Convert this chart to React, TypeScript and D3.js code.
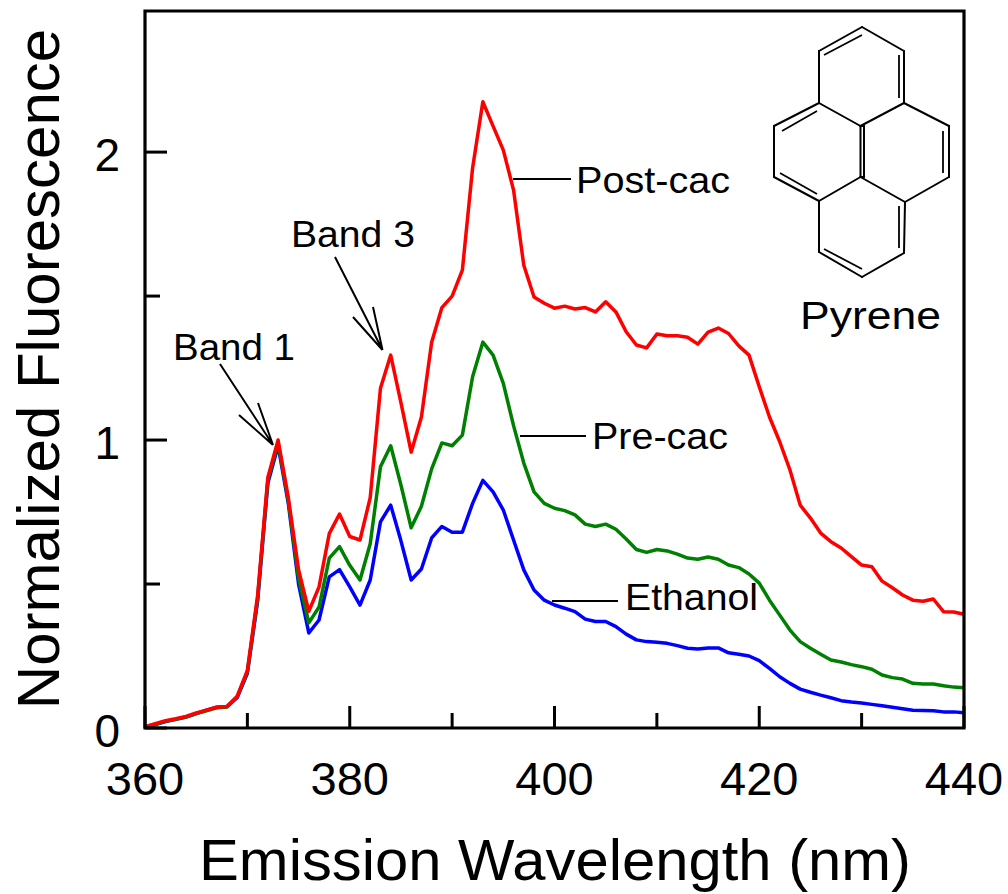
import React from "react";
import * as d3 from "d3";

const wavelengths = d3.range(360, 441);
const postCac = [0.005,0.015,0.025,0.032,0.04,0.052,0.062,0.072,0.075,0.11,0.2,0.46,0.87,1.0,0.8,0.55,0.405,0.49,0.675,0.743,0.665,0.653,0.8,1.18,1.295,1.13,0.958,1.08,1.34,1.46,1.5,1.59,1.945,2.175,2.09,2.007,1.868,1.607,1.497,1.475,1.458,1.465,1.455,1.46,1.445,1.48,1.445,1.376,1.33,1.32,1.368,1.362,1.362,1.357,1.333,1.375,1.389,1.37,1.327,1.295,1.185,1.08,0.994,0.896,0.774,0.729,0.677,0.647,0.625,0.595,0.566,0.56,0.51,0.487,0.462,0.444,0.44,0.448,0.404,0.403,0.395];
const preCac = [0.003,0.013,0.023,0.03,0.038,0.05,0.06,0.07,0.073,0.108,0.195,0.45,0.86,0.99,0.79,0.52,0.365,0.42,0.59,0.63,0.565,0.514,0.64,0.907,0.98,0.844,0.695,0.77,0.9,0.99,0.98,1.017,1.22,1.34,1.295,1.197,1.05,0.92,0.82,0.78,0.763,0.755,0.74,0.708,0.7,0.708,0.69,0.656,0.62,0.61,0.62,0.615,0.604,0.59,0.586,0.594,0.586,0.566,0.557,0.535,0.503,0.444,0.392,0.34,0.3,0.277,0.256,0.236,0.229,0.22,0.213,0.204,0.184,0.175,0.17,0.155,0.153,0.153,0.147,0.142,0.14];
const ethanol = [0.002,0.012,0.022,0.03,0.038,0.05,0.062,0.072,0.074,0.105,0.19,0.44,0.85,0.98,0.78,0.5,0.33,0.375,0.525,0.55,0.49,0.427,0.514,0.716,0.774,0.65,0.514,0.552,0.66,0.7,0.68,0.68,0.78,0.86,0.82,0.757,0.653,0.549,0.479,0.444,0.427,0.416,0.404,0.378,0.37,0.37,0.352,0.326,0.306,0.3,0.298,0.294,0.286,0.277,0.274,0.278,0.278,0.261,0.256,0.25,0.234,0.207,0.178,0.155,0.135,0.124,0.114,0.105,0.095,0.09,0.087,0.082,0.077,0.072,0.067,0.062,0.061,0.06,0.056,0.056,0.053];

const seriesList = [
  { name: "Ethanol", values: ethanol, color: "#0000ff" },
  { name: "Pre-cac", values: preCac, color: "#008000" },
  { name: "Post-cac", values: postCac, color: "#ff0000" },
];
const xMajor = [360, 380, 400, 420, 440];
const xMinor = [370, 390, 410, 430];
const yMajor = [0, 1, 2];
const yMinor = [0.5, 1.5];

const FONT = "'Liberation Sans', Arial, sans-serif";
const L = 145, R = 964, T = 11, B = 728;
const x = d3.scaleLinear().domain([360, 440]).range([L, R]);
const y = d3.scaleLinear().domain([0, 2.49]).range([B, T]);

const labels = [
  { text: "Post-cac", x: 576, y: 193, size: 37, w: 154 },
  { text: "Pre-cac", x: 592, y: 449, size: 37, w: 136 },
  { text: "Ethanol", x: 625, y: 610, size: 37, w: 133 },
  { text: "Band 1", x: 173, y: 360, size: 37, w: 122 },
  { text: "Band 3", x: 291, y: 247, size: 37, w: 124 },
  { text: "Pyrene", x: 800, y: 329, size: 38, w: 141 },
];
const leaders = [
  [513, 179, 571, 179],
  [520, 436, 586, 436],
  [552, 601, 618, 601],
];
const arrows = [
  { from: [220, 364], tip: [273, 445], b1: [239, 415], b2: [258, 403] },
  { from: [335, 257], tip: [382.5, 350], b1: [353, 317], b2: [373, 307] },
];
const atoms: Record<string, [number, number]> = {
  a: [862, 27], b: [904, 51], c: [904, 103], d: [949, 126], e: [949, 177], f: [905, 202],
  g: [904, 253], h: [862, 277], i: [819, 252], j: [819, 201], k: [774, 177], l: [774, 126],
  m: [819, 103], n: [819, 51], o: [860.5, 126], p: [860.5, 177], q: [864, 126], r: [864, 177],
};
const bonds = ["ab","bc","cd","de","ef","fg","gh","hi","ij","jk","kl","lm","mn","na","mo","co","jp","fp","oq","pr","op","qr"];
const innerBonds = [
  [824, 55, 862, 35], [899, 55, 899, 98], [943, 131, 943, 173], [899, 206, 899, 248],
  [824, 249, 862, 269], [782, 131, 817, 111], [780, 173, 817, 194],
];

export default function App() {
  const line = d3.line<number>().x((_, i) => x(wavelengths[i])).y((d) => y(d));
  return (
    <svg width={1008} height={894} style={{ position: "absolute", left: 0, top: 0, background: "#fff" }} fontFamily={FONT}>
      {seriesList.map((s) => (
        <path key={s.name} d={line(s.values) ?? ""} fill="none" stroke={s.color} strokeWidth={3.5} strokeLinejoin="round" />
      ))}
      <path d={`M${L},${T}H${R}V${B}H${L}Z`} fill="none" stroke="#000" strokeWidth={3.2} />
      {xMajor.map((t) => <line key={t} x1={x(t)} x2={x(t)} y1={B} y2={B - 22} stroke="#000" strokeWidth={3} />)}
      {xMinor.map((t) => <line key={t} x1={x(t)} x2={x(t)} y1={B} y2={B - 15} stroke="#000" strokeWidth={3} />)}
      {yMajor.map((t) => <line key={t} x1={L} x2={L + 22} y1={y(t)} y2={y(t)} stroke="#000" strokeWidth={3} />)}
      {yMinor.map((t) => <line key={t} x1={L} x2={L + 15} y1={y(t)} y2={y(t)} stroke="#000" strokeWidth={3} />)}
      {xMajor.map((t) => <text key={t} x={x(t)} y={794.5} fontSize={47} textAnchor="middle">{t}</text>)}
      {yMajor.map((t) => <text key={t} x={120} y={y(t) + 18.5} fontSize={46} textAnchor="end">{t}</text>)}
      <text x={555} y={880} fontSize={58} textAnchor="middle" textLength={712} lengthAdjust="spacingAndGlyphs">Emission Wavelength (nm)</text>
      <text transform="translate(59,369) rotate(-90)" fontSize={60} textAnchor="middle">Normalized Fluorescence</text>
      {labels.map((l) => (
        <text key={l.text} x={l.x} y={l.y} fontSize={l.size} textLength={l.w} lengthAdjust="spacingAndGlyphs">{l.text}</text>
      ))}
      {leaders.map((p, i) => <line key={i} x1={p[0]} y1={p[1]} x2={p[2]} y2={p[3]} stroke="#000" strokeWidth={2} />)}
      {arrows.map((a, i) => (
        <path key={i} fill="none" stroke="#000" strokeWidth={2}
          d={`M${a.from}L${a.tip}M${a.b1}L${a.tip}M${a.b2}L${a.tip}`} />
      ))}
      {bonds.map((b) => {
        const p = atoms[b[0]], q = atoms[b[1]];
        return <line key={b} x1={p[0]} y1={p[1]} x2={q[0]} y2={q[1]} stroke="#000" strokeWidth={2} strokeLinecap="round" />;
      })}
      {innerBonds.map((p, i) => <line key={i} x1={p[0]} y1={p[1]} x2={p[2]} y2={p[3]} stroke="#000" strokeWidth={1.8} />)}
    </svg>
  );
}
